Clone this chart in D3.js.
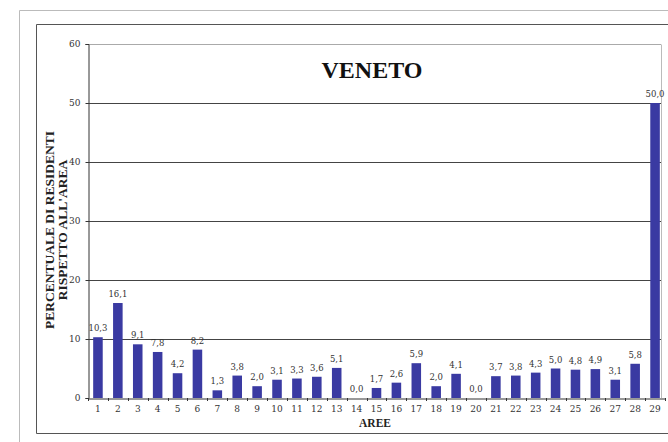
<!DOCTYPE html>
<html><head><meta charset="utf-8">
<script src="https://cdn.jsdelivr.net/npm/d3@7"></script>
<style>body{margin:0;background:#fff}svg{display:block}</style>
</head><body><svg id="c" width="668" height="442"></svg>
<script>
const categories = ["1","2","3","4","5","6","7","8","9","10","11","12","13","14","15","16","17","18","19","20","21","22","23","24","25","26","27","28","29"];
const values = [10.3,16.1,9.1,7.8,4.2,8.2,1.3,3.8,2.0,3.1,3.3,3.6,5.1,0.0,1.7,2.6,5.9,2.0,4.1,0.0,3.7,3.8,4.3,5.0,4.8,4.9,3.1,5.8,50.0];
const yTicks = [0,10,20,30,40,50,60];
const title = "VENETO";
const yTitle = ["PERCENTUALE DI RESIDENTI","RISPETTO ALL'AREA"];
const xTitle = "AREE";

const svg = d3.select("#c");
const serif = "'DejaVu Serif', 'Liberation Serif', serif";
const L = 88, R = 665, T = 44, B = 398;

// frames
svg.append("path").attr("d","M19.5,442 V10.5 H668").attr("fill","none").attr("stroke","#bbb").attr("stroke-width",1);
svg.append("path").attr("d","M668,24.5 H36.5 V433.5 H668").attr("fill","none").attr("stroke","#555").attr("stroke-width",1);

const x = d3.scaleBand().domain(categories).range([L,R]).paddingInner(0.52).paddingOuter(0.26);
const y = d3.scaleLinear().domain([0,60]).range([B,T]);

// gridlines
svg.append("g").selectAll("line").data(yTicks.filter(d=>d>0)).join("line")
  .attr("x1",L).attr("x2",661).attr("y1",d=>Math.round(y(d))+0.5).attr("y2",d=>Math.round(y(d))+0.5)
  .attr("stroke",d=>d===60?"#aaa":"#444").attr("stroke-width",1);
svg.append("line").attr("x1",661.5).attr("x2",661.5).attr("y1",T+0.5).attr("y2",B).attr("stroke","#bbb");

// bars
svg.append("g").selectAll("rect").data(values).join("rect")
  .attr("x",(d,i)=>x(categories[i])).attr("width",x.bandwidth())
  .attr("y",d=>y(d)).attr("height",d=>B-y(d)).attr("fill","#3a3aa2");

// value labels
svg.append("g").selectAll("text").data(values).join("text")
  .attr("x",(d,i)=>x(categories[i])+x.bandwidth()/2).attr("y",d=>y(d)-6)
  .attr("text-anchor","middle").attr("font-family",serif).attr("font-size",8.5).attr("fill","#333")
  .text(d=>d.toFixed(1).replace(".",","));

// y axis
const ya = svg.append("g").attr("transform",`translate(${L+0.5},0)`)
  .call(d3.axisLeft(y).tickValues(yTicks).tickSize(3).tickPadding(5).tickFormat(d=>d));
ya.select(".domain").attr("stroke","#333");
ya.selectAll("line").attr("stroke","#333");
ya.selectAll("text").attr("font-family",serif).attr("font-size",9).attr("fill","#333");

// x axis
const xa = svg.append("g").attr("transform",`translate(0,${B+0.5})`)
  .call(d3.axisBottom(x).tickSize(0).tickPadding(7));
xa.select(".domain").attr("stroke","#333");
xa.selectAll("text").attr("font-family",serif).attr("font-size",9).attr("fill","#333");
// small ticks between categories
svg.append("g").selectAll("line").data(d3.range(categories.length+1)).join("line")
  .attr("x1",i=>Math.round(L + i*(R-L)/categories.length)+0.5)
  .attr("x2",i=>Math.round(L + i*(R-L)/categories.length)+0.5)
  .attr("y1",B).attr("y2",B+3).attr("stroke","#333");

// titles
svg.append("text").attr("x",372).attr("y",78).attr("text-anchor","middle")
  .attr("font-family","'Liberation Serif', serif").attr("font-weight","bold").attr("font-size",24).attr("fill","#111").text(title);
svg.append("text").attr("x",375).attr("y",427).attr("text-anchor","middle")
  .attr("font-family","'Liberation Serif', serif").attr("font-weight","bold").attr("font-size",11.5).attr("fill","#222").text(xTitle);
yTitle.forEach((t,i)=>{
  svg.append("text").attr("transform",`translate(${54+i*13},230) rotate(-90)`).attr("text-anchor","middle")
    .attr("font-family","'Liberation Serif', serif").attr("font-weight","bold").attr("font-size",13.5).attr("fill","#222").text(t);
});
</script></body></html>
